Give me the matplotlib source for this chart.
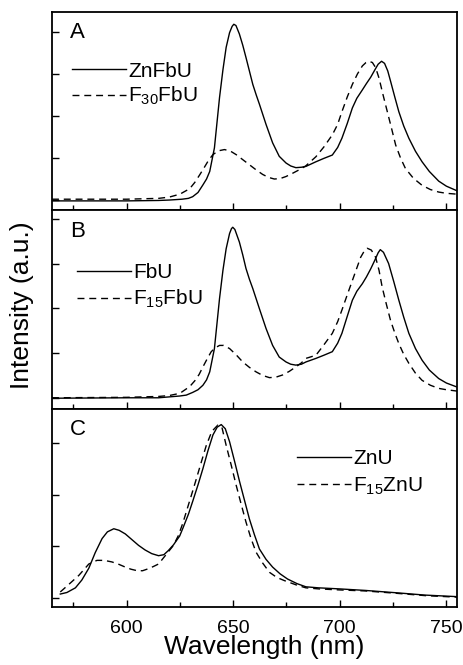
import matplotlib
matplotlib.use("Agg")
import matplotlib.pyplot as plt
from matplotlib.ticker import MultipleLocator

plt.rcParams['font.family'] = ['Liberation Sans', 'DejaVu Sans']
plt.rcParams['mathtext.fontset'] = 'custom'
plt.rcParams['mathtext.rm'] = 'Liberation Sans'
plt.rcParams['mathtext.it'] = 'Liberation Sans'

# panel A
wl_znfbu = [565, 600, 615, 620, 626, 629, 631, 633.5, 635.8, 637.5, 639, 641.2, 643.6, 645.2,
            646.7, 648.3, 649.5, 650.3, 651.3, 652.9, 654.5, 656, 657.6, 659.2, 660.8, 662.3,
            665.4, 668.5, 671.6, 674.8, 677, 679.4, 682, 684.1, 688.8, 692.5, 696.5, 699,
            701, 703.5, 705.9, 708, 710.6, 712.5, 714.5, 716.5, 718, 719.6, 721, 722.5,
            723.8, 725.8, 727.7, 730, 732.4, 735.5, 738.6, 742, 746.4, 750, 755]
znfbu = [-0.02, -0.02, -0.01, 0.0, 0.02, 0.04, 0.08, 0.18, 0.36, 0.5, 0.68, 1.24, 2.44, 3.1,
         3.63, 3.98, 4.13, 4.18, 4.15, 3.95, 3.68, 3.39, 3.07, 2.75, 2.5, 2.28,
         1.8, 1.36, 1.04, 0.88, 0.81, 0.77, 0.78, 0.8, 0.91, 0.99, 1.07, 1.25,
         1.47, 1.82, 2.19, 2.42, 2.62, 2.77, 2.92, 3.1, 3.23, 3.3, 3.25, 3.07,
         2.83, 2.45, 2.1, 1.76, 1.47, 1.16, 0.91, 0.68, 0.45, 0.33, 0.22]
wl_f30fbu = [565, 600, 615, 620, 625, 629.6, 632, 634.3, 636.5, 638.5, 640.5, 643, 645.9,
             648.5, 651.4, 654.5, 657.6, 660.7, 663.8, 666.5, 669.3, 672, 674.8, 678, 681,
             684, 688.8, 692.5, 696.5, 699, 701, 703.5, 705.9, 708.3, 710.6, 712.3, 713.7,
             715.3, 716.8, 718.4, 720.3, 722.3, 724.3, 726.2, 728.5, 730.8, 734.5, 738.6,
             742.5, 746.4, 750, 755]
f30fbu = [0.02, 0.02, 0.04, 0.07, 0.14, 0.27, 0.42, 0.6, 0.78, 0.95, 1.08, 1.17, 1.2,
          1.17, 1.08, 0.96, 0.84, 0.72, 0.61, 0.54, 0.5, 0.51, 0.56, 0.64, 0.72,
          0.81, 1.03, 1.26, 1.55, 1.8, 2.1, 2.45, 2.75, 3.0, 3.19, 3.27, 3.3,
          3.27, 3.15, 2.9, 2.5, 2.1, 1.7, 1.31, 1.0, 0.75, 0.52, 0.35,
          0.25, 0.19, 0.16, 0.14]

# panel B
wl_fbu = [565, 600, 615, 620, 625, 628, 631, 633.5, 635.8, 637.5, 639, 641.2, 643.6, 645.2,
          646.7, 648.3, 649.2, 649.8, 650.8, 652.9, 654.5, 656, 657.6, 659.2, 662.3, 665.4,
          668.5, 671.6, 674.8, 677, 679.4, 682, 684.1, 688.8, 692.5, 696.5, 699, 701,
          703.5, 705.9, 708, 710.6, 712.5, 714.5, 716.5, 718, 719, 720.5, 722.9, 725.3,
          727.7, 730, 732.4, 735.5, 738.6, 742, 746.4, 750, 755]
fbu = [-0.01, 0.0, 0.0, 0.02, 0.04, 0.06, 0.12, 0.18, 0.28, 0.4, 0.58, 1.1, 2.22, 2.85,
       3.33, 3.67, 3.78, 3.81, 3.76, 3.48, 3.19, 2.89, 2.65, 2.44, 1.99, 1.55,
       1.17, 0.91, 0.8, 0.75, 0.73, 0.75, 0.8, 0.88, 0.95, 1.03, 1.22, 1.44,
       1.82, 2.18, 2.38, 2.55, 2.7, 2.88, 3.08, 3.24, 3.31, 3.25, 3.0, 2.6,
       2.18, 1.8, 1.44, 1.1, 0.84, 0.62, 0.43, 0.33, 0.24]
wl_f15fbu = [565, 600, 615, 620, 625, 629.6, 632, 634, 635.8, 637.8, 639.7, 641.7, 643.6,
             645.5, 648.3, 651.4, 654.5, 657.6, 660.7, 663.8, 667, 670, 673.2, 676.3,
             679.4, 682, 684.1, 688.8, 692.5, 696.5, 699, 701, 703.5, 705.9, 708, 709.8,
             711.5, 712.9, 714.8, 716.8, 718.4, 719.9, 721.8, 723.8, 725.8, 727.7, 730,
             732.4, 735.5, 738.6, 742.5, 746.4, 750, 755]
f15fbu = [0.0, 0.01, 0.03, 0.05, 0.1, 0.25, 0.38, 0.52, 0.69, 0.87, 1.03, 1.12, 1.17,
          1.17, 1.1, 0.96, 0.8, 0.68, 0.58, 0.5, 0.45, 0.46, 0.51, 0.59,
          0.69, 0.78, 0.88, 0.95, 1.18, 1.44, 1.7, 1.96, 2.3, 2.62, 2.9, 3.14,
          3.28, 3.34, 3.3, 3.14, 2.85, 2.47, 2.1, 1.73, 1.45, 1.21, 0.97,
          0.77, 0.55, 0.39, 0.28, 0.21, 0.18, 0.15]

# panel C
wl_znu = [568.9, 572, 576, 579, 582.3, 585.3, 588.5, 591, 594, 596.5, 599.4, 602.5, 605.6,
          608.7, 611.8, 615, 617.5, 619.6, 622, 624.9, 626.4, 629, 631.1, 633.6, 635.8,
          638.2, 640.5, 642.5, 644.4, 646.3, 648.3, 650.6, 653, 655.3, 657.6, 660, 662.3,
          665.4, 668.5, 672, 675.5, 680, 684.1, 690, 699.7, 712, 728, 740, 755]
znu = [0.08, 0.11, 0.2, 0.35, 0.58, 0.88, 1.15, 1.28, 1.34, 1.31, 1.24, 1.13, 1.02,
       0.93, 0.86, 0.82, 0.84, 0.92, 1.03, 1.2, 1.35, 1.62, 1.88, 2.2, 2.5,
       2.85, 3.15, 3.3, 3.35, 3.27, 3.02, 2.65, 2.25, 1.89, 1.53, 1.22, 0.95,
       0.75, 0.6, 0.47, 0.37, 0.28, 0.22, 0.2, 0.18, 0.15, 0.1, 0.06, 0.03]
wl_f15znu = [568.9, 573, 577.6, 582.3, 586.1, 589.5, 593.1, 596, 599.4, 602, 605, 607.5,
             610.3, 612.5, 615, 618.9, 622, 624.3, 626.4, 629, 630.5, 632.7, 635, 637.4,
             640, 642.8, 644.7, 646.7, 649, 651.4, 653.7, 656, 658.3, 660.7, 663.8, 667,
             670.5, 674, 680, 684.1, 690, 699.7, 712, 728, 740, 755]
f15znu = [0.12, 0.27, 0.44, 0.66, 0.73, 0.73, 0.7, 0.66, 0.6, 0.56, 0.53, 0.53,
          0.57, 0.61, 0.66, 0.86, 1.02, 1.21, 1.45, 1.8, 2.0, 2.3, 2.62, 2.95,
          3.22, 3.34, 3.3, 2.95, 2.58, 2.18, 1.82, 1.47, 1.16, 0.89, 0.68, 0.5,
          0.4, 0.34, 0.25, 0.2, 0.18, 0.16, 0.14, 0.09, 0.05, 0.02]

panels = [
    ("A", wl_znfbu, znfbu, "ZnFbU", wl_f30fbu, f30fbu, "F$_{30}$FbU",
     (-0.24, 4.48), range(5), (0.049, 0.633), 0.2),
    ("B", wl_fbu, fbu, "FbU", wl_f15fbu, f15fbu, "F$_{15}$FbU",
     (-0.25, 4.185), range(5), (0.062, 0.615), 0.28),
    ("C", wl_znu, znu, "ZnU", wl_f15znu, f15znu, "F$_{15}$ZnU",
     (-0.17, 3.66), range(4), (0.605, 0.675), 0.36),
]

fig = plt.figure(figsize=(4.64, 6.65), dpi=100)
bottoms = [0.684, 0.385, 0.0872]

for (letter, x1, y1, l1, x2, y2, l2, ylim, yt, legpos, lsp), b in zip(panels, bottoms):
    ax = fig.add_axes([0.112, b, 0.873, 0.2985])
    ax.plot(x1, y1, color='black', lw=1.0, label=l1)
    ax.plot(x2, y2, color='black', lw=1.0, linestyle=(0, (5, 3.5)), label=l2)
    ax.set_xlim(565, 755)
    ax.set_ylim(*ylim)
    ax.set_yticks(list(yt))
    ax.set_yticklabels([])
    ax.xaxis.set_major_locator(MultipleLocator(50))
    ax.xaxis.set_minor_locator(MultipleLocator(25))
    ax.tick_params(axis='both', which='major', direction='in', length=5, width=1.0,
                   top=False, right=False, labelsize=14, pad=9)
    ax.tick_params(axis='x', which='minor', direction='in', length=3.5, width=1.0, top=False)
    for s in ax.spines.values():
        s.set_linewidth(1.3)
    if letter != "C":
        ax.set_xticklabels([])
    ax.text(0.045, 0.895, letter, transform=ax.transAxes, fontsize=16, va='center', ha='left')
    ax.legend(loc='center left', bbox_to_anchor=legpos, frameon=False, fontsize=15,
              handlelength=2.6, handletextpad=0.1, borderpad=0, borderaxespad=0,
              labelspacing=lsp)

fig.text(0.047, 0.541, "Intensity (a.u.)", rotation=90, fontsize=19, ha='center', va='center')
fig.text(0.569, 0.016, "Wavelength (nm)", fontsize=19, ha='center', va='baseline')

fig.savefig("out.png", dpi=100)
